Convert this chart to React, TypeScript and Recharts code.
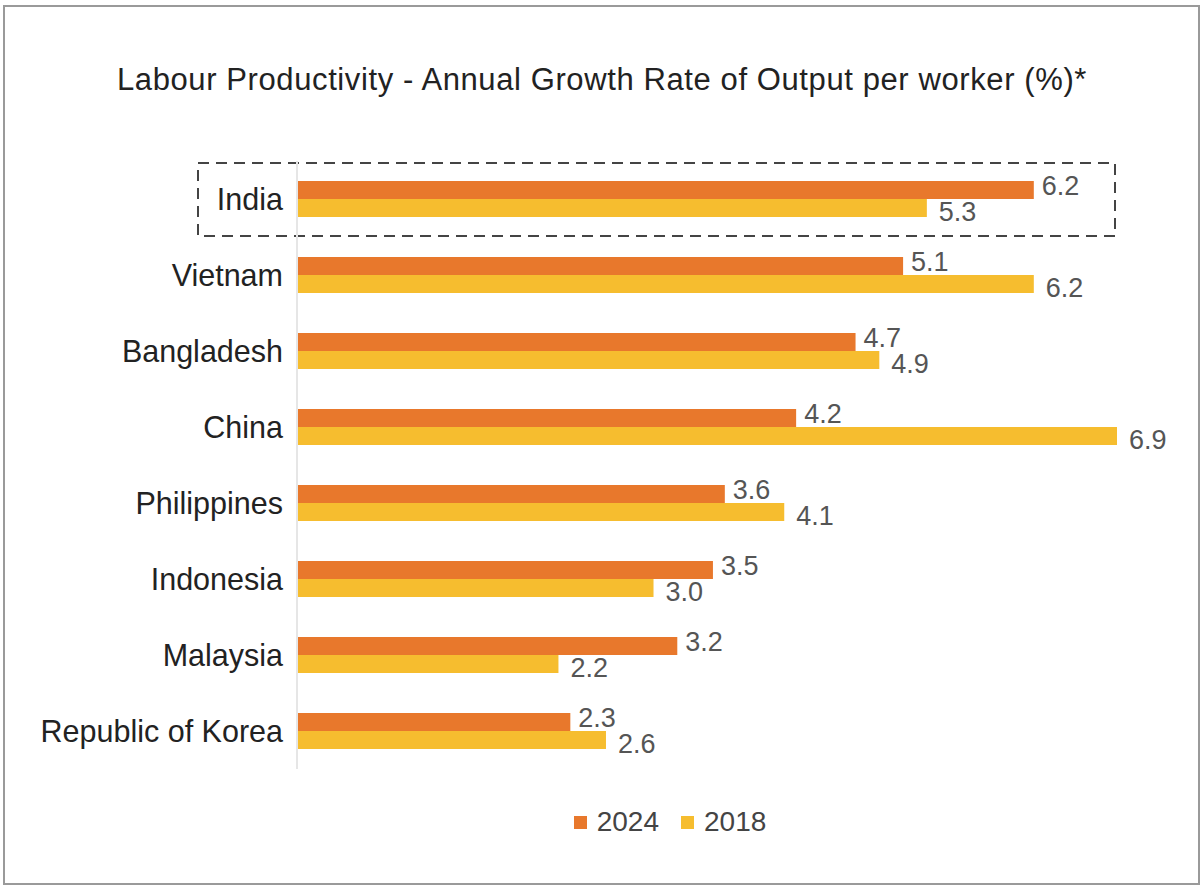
import React from 'react';
import { BarChart, Bar, XAxis, YAxis, Legend, LabelList, ReferenceArea } from 'recharts';

const countries = ['India', 'Vietnam', 'Bangladesh', 'China', 'Philippines', 'Indonesia', 'Malaysia', 'Republic of Korea'];
const values2024 = [6.2, 5.1, 4.7, 4.2, 3.6, 3.5, 3.2, 2.3];
const values2018 = [5.3, 6.2, 4.9, 6.9, 4.1, 3.0, 2.2, 2.6];
const seriesNames = ['2024', '2018'];
const title = 'Labour Productivity - Annual Growth Rate of Output per worker (%)*';
const highlighted = 'India';

const data = countries.map((c, i) => ({ country: c, v2024: values2024[i], v2018: values2018[i] }));

const FONT = '"Liberation Sans", Arial, Helvetica, sans-serif';
const C2024 = '#E8782C';
const C2018 = '#F6BD2F';

const fmt = (v: any) => Number(v).toFixed(1);

const DashedBox = (props: any) => {
  const { x, y, width, height } = props;
  return (
    <rect
      x={x - 99}
      y={y + 2}
      width={width + 97}
      height={height - 3}
      fill="none"
      stroke="#444"
      strokeWidth={2}
      strokeDasharray="11 7"
    />
  );
};

const makeLabel = (dy: number, offset: number) => (props: any) => {
  const { x, y, width, height, value } = props;
  return (
    <text
      x={x + width + offset}
      y={y + height / 2 + dy}
      dominantBaseline="central"
      fontFamily={FONT}
      fontSize={27}
      fill="#555"
    >
      {fmt(value)}
    </text>
  );
};

const LegendContent = () => (
  <div style={{ display: 'flex', justifyContent: 'center', alignItems: 'center', fontFamily: FONT, fontSize: 28, color: '#444', height: 32 }}>
    {seriesNames.map((n, i) => (
      <div key={n} style={{ display: 'flex', alignItems: 'center', marginRight: i === 0 ? 22 : 0 }}>
        <span style={{ display: 'inline-block', width: 13, height: 13, background: i === 0 ? C2024 : C2018, marginRight: 10 }} />
        <span>{n}</span>
      </div>
    ))}
  </div>
);

export default function App() {
  return (
    <div style={{ position: 'absolute', left: 0, top: 0, width: 1204, height: 887, background: '#fff' }}>
      <div style={{ position: 'absolute', left: 3, top: 5, width: 1193, height: 876, border: '2px solid #9a9a9a' }} />
      <div style={{ position: 'absolute', left: 0, top: 60, width: 1204, textAlign: 'center', fontFamily: FONT, fontSize: 31, letterSpacing: 0.6, color: '#222', lineHeight: '40px' }}>
        {title}
      </div>
      <div style={{ position: 'absolute', left: 0, top: 0 }}>
        <BarChart
          width={1204}
          height={887}
          data={data}
          layout="vertical"
          margin={{ top: 161, right: 87, bottom: 86, left: 0 }}
          barCategoryGap={20}
          barGap={0}
        >
          <XAxis type="number" domain={[0, 6.9]} hide />
          <YAxis
            type="category"
            dataKey="country"
            width={297}
            tickLine={false}
            axisLine={{ stroke: '#e6e6e6', strokeWidth: 2 }}
            tickMargin={8}
            tick={{ fontFamily: FONT, fontSize: 30.5, fill: '#222' }}
            interval={0}
          />
          <ReferenceArea
            y1={highlighted}
            y2={highlighted}
            x1={0}
            x2={6.9}
            ifOverflow="visible"
            shape={<DashedBox />}
          />
          <Bar dataKey="v2024" name={seriesNames[0]} fill={C2024} barSize={18} isAnimationActive={false}>
            <LabelList dataKey="v2024" content={makeLabel(-4, 8)} />
          </Bar>
          <Bar dataKey="v2018" name={seriesNames[1]} fill={C2018} barSize={18} isAnimationActive={false}>
            <LabelList dataKey="v2018" content={makeLabel(4, 12)} />
          </Bar>
          <Legend
            verticalAlign="bottom"
            content={<LegendContent />}
            wrapperStyle={{ left: 470, width: 400, top: 806 }}
          />
        </BarChart>
      </div>
    </div>
  );
}
